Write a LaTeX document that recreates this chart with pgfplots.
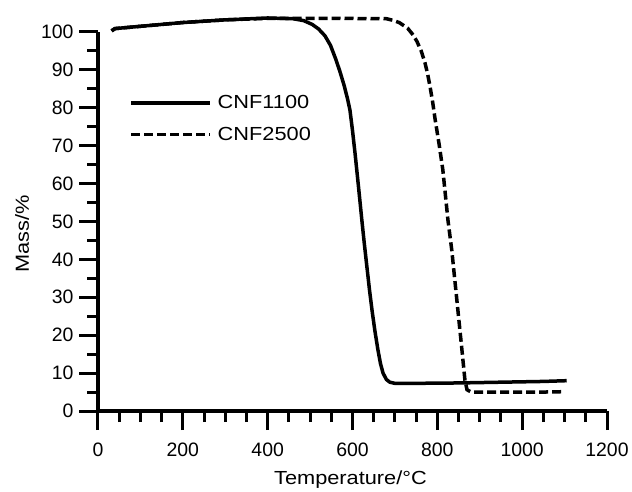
\documentclass[border=0pt]{standalone}
\usepackage{fontspec}
\setmainfont{Liberation Sans}
\newfontfamily\lab{Liberation Sans}[FakeStretch=1.15]
\usepackage{pgfplots}
\pgfplotsset{compat=1.18}
\begin{document}
\begin{tikzpicture}
\begin{axis}[
  scale only axis,
  width=509bp, height=379bp,
  xmin=0, xmax=1200, ymin=0, ymax=100,
  clip=false,
  axis lines*=left,
  axis line style={line width=3.5bp},
  tick align=outside,
  major tick length=19bp,
  minor tick length=11bp,
  every tick/.style={black, line width=3bp},
  xtick={0,200,...,1200},
  ytick={0,10,...,100},
  minor x tick num=3,
  minor y tick num=1,
  /pgf/number format/assume math mode=true,
  /pgf/number format/1000 sep={},
  tick label style={font=\fontsize{19.5}{22}\selectfont},
  xticklabel style={yshift=-9bp},
  yticklabel style={xshift=-2bp},
  xlabel={Temperature/°C},
  ylabel={Mass/\%},
  label style={font=\lab\fontsize{19}{23}\selectfont},
  xlabel style={at={(axis description cs:0.496,-0.18)}, anchor=center},
  ylabel style={at={(axis description cs:-0.149,0.467)}, anchor=center},
  legend style={draw=none, fill=none, at={(axis description cs:0.061,0.838)}, anchor=north west,
    font=\lab\fontsize{19}{22}\selectfont, inner sep=0pt, row sep=13bp},
  legend cell align=left,
  legend image code/.code={\draw[#1] (0bp,0bp) -- (79bp,0bp);},
]
\addplot[black, line width=3.5bp, line join=round] coordinates {
(32,100.3) (40,100.9) (100,101.5) (200,102.5) (300,103.2) (400,103.7) (460,103.5)
(485,103.0) (505,102.0) (520,100.8) (535,99) (548,96.5) (560,93) (570,89.7)
(580,86) (588,82.5) (594,79.4) (600,74) (606,68) (612,61.5) (617,56)
(622,50.4) (628,44) (634,38) (640,32) (646,26.6) (653,21) (660,16.1)
(666,12.5) (672,10) (680,8.3) (688,7.6) (700,7.3) (750,7.3)
(850,7.4) (950,7.6) (1050,7.8) (1105,8.0)
};
\addlegendentry{\hspace*{4bp}CNF1100}
\addplot[black, line width=3.5bp, dash pattern=on 9bp off 4bp] coordinates {
(32,100.3) (40,100.9) (100,101.5) (200,102.5) (300,103.2) (400,103.6) (460,103.6)
(560,103.6) (680,103.5) (695,103.1) (710,102.5) (730,101) (743,99.2) (752,97.5)
(762,95) (771,91.8) (777,89) (783,85.5) (789,81.5) (795,76.8) (804,70.5)
(813,63.6) (819,57) (825,50.4) (834,42.5) (846,29.3) (858,16.1) (865,8.2)
(870,5.6) (880,5) (950,5) (1050,5) (1100,5.1)
};
\addlegendentry{\hspace*{4bp}CNF2500}
\end{axis}
\path (current axis.south west) ++(-98bp,-80bp) coordinate (bl);
\path (current axis.north east) ++(25bp,32bp) coordinate (tr);
\path (bl) rectangle (tr);
\end{tikzpicture}
\end{document}
